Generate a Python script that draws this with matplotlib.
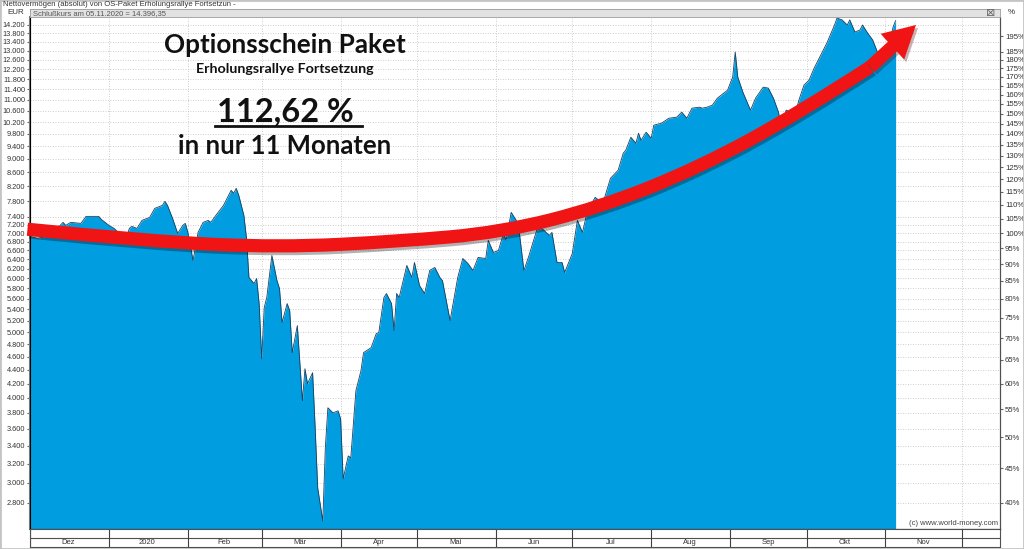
import numpy as np
import matplotlib
matplotlib.use("Agg")
import matplotlib.pyplot as plt
import matplotlib.patheffects as pe
from matplotlib.path import Path
from matplotlib.patches import PathPatch, Rectangle
from matplotlib.lines import Line2D
from matplotlib.ticker import FixedLocator, NullLocator, NullFormatter, FuncFormatter
import matplotlib.dates as mdates

# Nettovermoegen OS-Paket (EUR)
dates = [
    "2019-12-01", "2019-12-04", "2019-12-09", "2019-12-14", "2019-12-15", "2019-12-17", "2019-12-21",
    "2019-12-23", "2019-12-28", "2019-12-29",
    "2020-01-01", "2020-01-03", "2020-01-06", "2020-01-08", "2020-01-09", "2020-01-10", "2020-01-12",
    "2020-01-14", "2020-01-17", "2020-01-19", "2020-01-22", "2020-01-23", "2020-01-24", "2020-01-26",
    "2020-01-28", "2020-01-30", "2020-01-31",
    "2020-02-01", "2020-02-02", "2020-02-03", "2020-02-04", "2020-02-05", "2020-02-07", "2020-02-09",
    "2020-02-10", "2020-02-12", "2020-02-15", "2020-02-18", "2020-02-19", "2020-02-20", "2020-02-21",
    "2020-02-23", "2020-02-24", "2020-02-25", "2020-02-27", "2020-02-28", "2020-02-29",
    "2020-03-01", "2020-03-02", "2020-03-03", "2020-03-05", "2020-03-07", "2020-03-08", "2020-03-09",
    "2020-03-11", "2020-03-12", "2020-03-13", "2020-03-15", "2020-03-17", "2020-03-18", "2020-03-19",
    "2020-03-21", "2020-03-22", "2020-03-23", "2020-03-25", "2020-03-26", "2020-03-27", "2020-03-29",
    "2020-03-31",
    "2020-04-01", "2020-04-02", "2020-04-04", "2020-04-05", "2020-04-07", "2020-04-09", "2020-04-10",
    "2020-04-13", "2020-04-15", "2020-04-16", "2020-04-18", "2020-04-19", "2020-04-21", "2020-04-22",
    "2020-04-23", "2020-04-24", "2020-04-27", "2020-04-29", "2020-04-30",
    "2020-05-02", "2020-05-04", "2020-05-06", "2020-05-08", "2020-05-10", "2020-05-11", "2020-05-14",
    "2020-05-17", "2020-05-19", "2020-05-21", "2020-05-23", "2020-05-25", "2020-05-28", "2020-05-29",
    "2020-05-31",
    "2020-06-02", "2020-06-04", "2020-06-05", "2020-06-07", "2020-06-09", "2020-06-10", "2020-06-12",
    "2020-06-14", "2020-06-17", "2020-06-19", "2020-06-22", "2020-06-23", "2020-06-25", "2020-06-27",
    "2020-06-28",
    "2020-07-01", "2020-07-03", "2020-07-05", "2020-07-07", "2020-07-10", "2020-07-13", "2020-07-16",
    "2020-07-19", "2020-07-21", "2020-07-22", "2020-07-24", "2020-07-26", "2020-07-27", "2020-07-28",
    "2020-07-30",
    "2020-08-01", "2020-08-02", "2020-08-05", "2020-08-08", "2020-08-11", "2020-08-13", "2020-08-15",
    "2020-08-17", "2020-08-20", "2020-08-21", "2020-08-23", "2020-08-25", "2020-08-27", "2020-08-31",
    "2020-09-02", "2020-09-03", "2020-09-04", "2020-09-06", "2020-09-09", "2020-09-11", "2020-09-14",
    "2020-09-16", "2020-09-18", "2020-09-20", "2020-09-21", "2020-09-23", "2020-09-25", "2020-09-26",
    "2020-09-28", "2020-09-30",
    "2020-10-02", "2020-10-04", "2020-10-06", "2020-10-09", "2020-10-12", "2020-10-13", "2020-10-15",
    "2020-10-17", "2020-10-18", "2020-10-20", "2020-10-22", "2020-10-23", "2020-10-25", "2020-10-27",
    "2020-10-29", "2020-10-31",
    "2020-11-02", "2020-11-04", "2020-11-05",
]
values = [
    6920, 6873, 6944, 7258, 7184, 7258, 7233, 7407, 7407, 7332,
    7184, 7111, 6944, 6897, 7111, 7159, 7111, 7307, 7382, 7611, 7689, 7795, 7689, 7357,
    6991, 7184, 7233,
    7015, 6711, 6378, 6666, 7015, 7258, 7307, 7258, 7432, 7689, 8092, 8010, 8147, 7955,
    7432, 6897, 6019, 5897, 5998, 5509,
    4569, 5435, 5623, 6486, 5957, 5797, 5165, 5509, 5380, 4664, 5113, 3961, 4416, 4197,
    4357, 3614, 2947, 2634, 3376, 3868, 3802, 3828,
    3726, 3038, 3285, 3263, 4098, 4387, 4664, 4744, 4975, 4992, 5623, 5700, 5509, 5026,
    5700, 5623, 6270, 6019, 6334,
    5857, 5700, 6164, 6228, 6019, 5957, 5200, 6019, 6421, 6313, 6164, 6443, 6421, 6827,
    6553,
    6598, 6991, 6827, 7509, 7307, 7111, 6164, 6486, 7063, 7111, 6944, 7015, 6334, 6334,
    6122,
    6530, 7307, 7015, 7559, 7901, 7742, 8429, 8661, 9178, 9271, 9690, 9494, 9823, 9591,
    9857,
    9657, 10094, 10163, 10337, 10372, 10551, 10337, 10695, 10732, 10695, 10732, 10805, 11066, 11371,
    11884, 12940, 11884, 11294, 10623, 11066, 11486, 11448, 11066, 10551, 10026, 10623, 10551, 10267,
    10990, 11565,
    11763, 12254, 12679, 13342, 14184, 14526, 14429, 14184, 14429, 13850, 13945, 14184, 13803, 13479,
    12896, 12591,
    13029, 14088, 14396,
]
base_value = 7000  # level shown as 100 % on the right axis

eur_ticks = list(range(2800, 7401, 200)) + list(range(7800, 14201, 400))
pct_ticks = list(range(40, 186, 5)) + [195]
month_starts = ["2019-12-01", "2020-01-01", "2020-02-01", "2020-03-01", "2020-04-01", "2020-05-01",
                "2020-06-01", "2020-07-01", "2020-08-01", "2020-09-01", "2020-10-01", "2020-11-01",
                "2020-12-01"]
month_labels = ["Dez", "2020", "Feb", "Mär", "Apr", "Mai", "Jun", "Jul", "Aug", "Sep", "Okt", "Nov"]

# trend arrow drawn over the chart
arrow_dates = ["2019-11-30", "2020-01-17", "2020-03-08", "2020-04-24", "2020-06-03", "2020-07-12",
               "2020-08-20", "2020-09-28", "2020-10-26"]
arrow_values = [7090, 6805, 6666, 6805, 7015, 7637, 8750, 10515, 12297]
arrow_tip = ("2020-11-13", 14184)

small = ["Liberation Sans Narrow", "Liberation Sans", "DejaVu Sans"]
bold_font = ["Lato", "Open Sans", "DejaVu Sans"]
plt.rcParams["font.family"] = small

W, H = 1024, 549
def box(x0, y0, x1, y1):
    return [x0 / W, 1 - y1 / H, (x1 - x0) / W, (y1 - y0) / H]

fig = plt.figure(figsize=(W / 100, H / 100), dpi=100)
fig.patches.append(Rectangle((0, 0), 1, 1, transform=fig.transFigure, fill=False,
                             ec="#c4c4c4", lw=2))

xlim = (np.datetime64("2019-12-01"), np.datetime64("2020-12-16"))
ymin, ymax = 2563, 14574

ax = fig.add_axes(box(30, 17, 1000, 529))
x = np.array(dates, dtype="datetime64[D]")
ax.set_yscale("log")
ax.set_ylim(ymin, ymax)
ax.set_xlim(*xlim)
ax.fill_between(x, values, ymin, color="#009ee0", lw=0, zorder=2)
ax.plot(x, values, color="#1b3f5f", lw=0.6, zorder=3)

ms = np.array(month_starts, dtype="datetime64[D]")
ax.set_xticks(ms)
ax.tick_params(axis="x", length=0, labelbottom=False)
ax.yaxis.set_major_locator(FixedLocator(eur_ticks))
ax.yaxis.set_minor_locator(NullLocator())
ax.yaxis.set_minor_formatter(NullFormatter())
ax.yaxis.set_major_formatter(FuncFormatter(lambda v, p: f"{v:,.0f}".replace(",", ".")))
ax.tick_params(axis="y", labelsize=5.3, length=2.5, color="#666666", labelcolor="#333333", pad=1)
ax.grid(True, ls=(0, (1, 2)), color="#bdbdbd", lw=0.6)
ax.set_axisbelow(True)
ax.spines["top"].set_visible(False)
ax.spines["left"].set_color("#808080")
ax.spines["left"].set_linewidth(1.5)
ax.spines["right"].set_color("#505050")
ax.spines["bottom"].set_color("#505050")

ax2 = ax.twinx()
ax2.set_yscale("log")
ax2.set_ylim(ymin / base_value * 100, ymax / base_value * 100)
ax2.yaxis.set_major_locator(FixedLocator(pct_ticks))
ax2.yaxis.set_minor_locator(NullLocator())
ax2.yaxis.set_minor_formatter(NullFormatter())
ax2.yaxis.set_major_formatter(FuncFormatter(lambda v, p: f"{v:.0f}%"))
ax2.tick_params(axis="y", labelsize=5.6, length=2.5, color="#666666", labelcolor="#333333", pad=1)
ax2.spines["top"].set_visible(False)
ax2.spines["right"].set_color("#505050")

ax.text(0.998, 0.004, "(c) www.world-money.com", transform=ax.transAxes, ha="right", va="bottom",
        fontsize=5.5, color="#444444", zorder=5)

# trend arrow: smooth quadratic spline through the control points
xs = mdates.date2num(np.array(arrow_dates, dtype="datetime64[D]"))
ys = np.array(arrow_values, dtype=float)
verts = [(xs[0], ys[0])]
codes = [Path.MOVETO]
for i in range(1, len(xs) - 2):
    verts += [(xs[i], ys[i]), ((xs[i] + xs[i + 1]) / 2, np.sqrt(ys[i] * ys[i + 1]))]
    codes += [Path.CURVE3, Path.CURVE3]
verts += [(xs[-2], ys[-2]), (xs[-1], ys[-1])]
codes += [Path.CURVE3, Path.CURVE3]
shadow = [pe.SimpleLineShadow(offset=(1.5, -2), shadow_color="black", alpha=0.3), pe.Normal()]
curve = PathPatch(Path(verts, codes), fill=False, ec="#f01414", lw=9.5, capstyle="butt",
                  clip_on=False, zorder=6)
ax2.add_patch(curve)
curve.set_transform(ax.transData)
curve.set_path_effects(shadow)
tip_x = mdates.date2num(np.datetime64(arrow_tip[0]))
ann = ax.annotate("", xy=(tip_x, arrow_tip[1]), xytext=(xs[-1], ys[-1]), annotation_clip=False,
                  arrowprops=dict(arrowstyle="simple,head_length=2.3,head_width=2.5,tail_width=0.95",
                                  fc="#f01414", ec="none", shrinkA=0, shrinkB=0, mutation_scale=10),
                  zorder=7)
ann.arrow_patch.set_path_effects([pe.SimplePatchShadow(offset=(1.5, -2), alpha=0.3), pe.Normal()])

# date band under the chart
bax = fig.add_axes(box(30, 529, 1000, 547))
bax.set_xlim(*xlim)
bax.set_ylim(0, 2)
bax.axhline(1, color="#505050", lw=0.8)
for m in ms:
    bax.axvline(m, color="#404040", lw=0.8)
mids = ms[:-1] + (ms[1:] - ms[:-1]) / 2
for m, lab in zip(mids, month_labels):
    bax.text(m, 0.5, lab, ha="center", va="center", fontsize=5.5, color="#333333")
bax.set_xticks([])
bax.set_yticks([])
for s in bax.spines.values():
    s.set_color("#505050")

# header strip
hax = fig.add_axes(box(30, 9, 1000, 17))
hax.set_facecolor("#e2e2e2")
hax.set_xticks([])
hax.set_yticks([])
for s in hax.spines.values():
    s.set_color("#9a9a9a")
    s.set_linewidth(0.6)
hax.text(0.003, 0.45, "Schlußkurs am 05.11.2020 = 14.396,35", transform=hax.transAxes,
         fontsize=5.5, va="center", color="#555555")
hax.text(0.99, 0.45, "⊠", transform=hax.transAxes, fontsize=8, va="center", ha="center",
         color="#666666", family="DejaVu Sans")

fig.text(3 / W, 1 - 4.5 / H, "Nettovermögen (absolut) von OS-Paket Erholungsrallye Fortsetzun -",
         fontsize=5.5, va="center", color="#333333")
fig.text(24 / W, 1 - 13 / H, "EUR", fontsize=5.8, va="center", ha="right", color="#333333")
fig.text(1008 / W, 1 - 13 / H, "%", fontsize=5.8, va="center", ha="left", color="#333333")

# headline texts
cx = 285 / W
fig.text(cx, 1 - 45 / H, "Optionsschein Paket", fontsize=18.8, fontweight="bold", family=bold_font,
         ha="center", va="center", color="#111111")
fig.text(cx, 1 - 69 / H, "Erholungsrallye Fortsetzung", fontsize=10.3, fontweight="bold",
         family=bold_font, ha="center", va="center", color="#111111")
fig.text(cx, 1 - 112 / H, "112,62 %", fontsize=23.5, fontweight="bold", family=bold_font,
         ha="center", va="center", color="#111111")
fig.add_artist(Line2D([215 / W, 362 / W], [1 - 126 / H, 1 - 126 / H], transform=fig.transFigure,
                      color="#111111", lw=2))
fig.text(cx, 1 - 146 / H, "in nur 11 Monaten", fontsize=18.5, fontweight="bold", family=bold_font,
         ha="center", va="center", color="#111111")

fig.savefig("out.png", dpi=100)
